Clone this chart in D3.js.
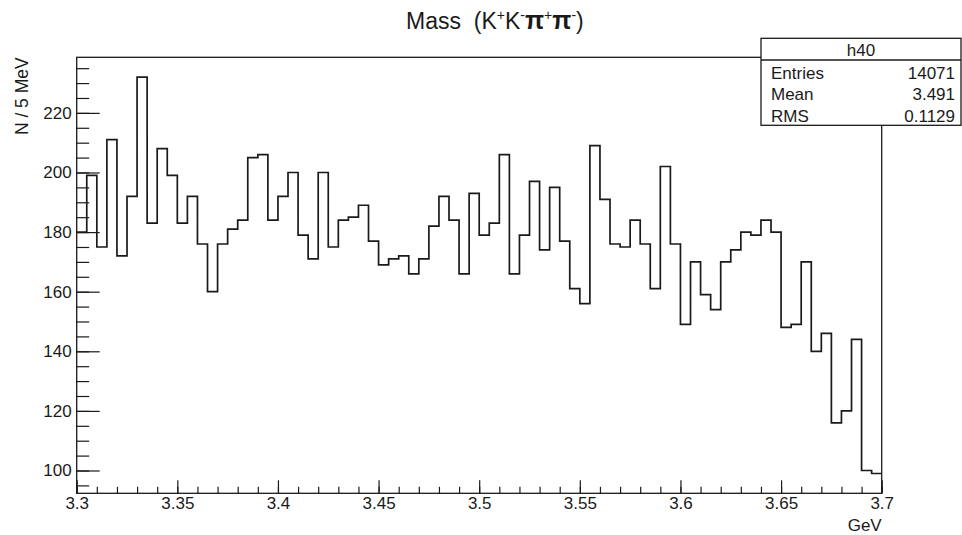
<!DOCTYPE html>
<html>
<head>
<meta charset="utf-8">
<script src="https://cdn.jsdelivr.net/npm/d3@7"></script>
<style>
  body { margin: 0; background: #fff; }
  svg { display: block; font-family: "Liberation Sans", Arial, sans-serif; }
</style>
</head>
<body>
<div id="chart"></div>
<script>
// histogram h40: 80 bins of 5 MeV from 3.3 to 3.7 GeV
const binLow = 3.3;
const binWidth = 0.005;
const counts = [
  180, 199, 175, 211, 172, 192, 232, 183, 208, 199,
  183, 192, 176, 160, 176, 181, 184, 205, 206, 184,
  192, 200, 179, 171, 200, 175, 184, 185, 189, 177,
  169, 171, 172, 166, 171, 182, 192, 184, 166, 193,
  179, 183, 206, 166, 179, 197, 174, 195, 177, 161,
  156, 209, 191, 176, 175, 184, 176, 161, 202, 176,
  149, 170, 159, 154, 170, 174, 180, 179, 184, 180,
  148, 149, 170, 140, 146, 116, 120, 144, 100, 99
];
const xTicks = [3.3, 3.35, 3.4, 3.45, 3.5, 3.55, 3.6, 3.65, 3.7];
const yTicks = [100, 120, 140, 160, 180, 200, 220];
const statLabels = ["Entries", "Mean", "RMS"];
const statValues = ["14071", "3.491", "0.1129"];

const width = 962, height = 535;
const frame = { left: 76.7, right: 881.7, top: 57.3, bottom: 493.3 };
const ink = "#1a1a1a";

const svg = d3.select("#chart").append("svg")
    .attr("width", width)
    .attr("height", height);

svg.append("rect").attr("width", width).attr("height", height).attr("fill", "#fff");

const x = d3.scaleLinear()
    .domain([binLow, binLow + counts.length * binWidth])
    .range([frame.left, frame.right]);

// ROOT style: 5% margin around min/max
const [lo, hi] = d3.extent(counts);
const pad = 0.05 * (hi - lo);
const y = d3.scaleLinear()
    .domain([lo - pad, hi + pad])
    .range([frame.bottom, frame.top]);

// minor ticks
const xMinor = d3.range(0, 41).map(i => binLow + i * 0.01);
const yMinor = d3.range(95, 240, 5);

svg.append("g")
    .attr("transform", `translate(0,${frame.bottom})`)
    .call(d3.axisBottom(x).tickValues(xMinor).tickSize(-6.5).tickFormat(""))
    .call(g => g.select(".domain").remove());

svg.append("g")
    .attr("transform", `translate(${frame.left},0)`)
    .call(d3.axisLeft(y).tickValues(yMinor).tickSize(-12.5).tickFormat(""))
    .call(g => g.select(".domain").remove());

// major ticks + labels
svg.append("g")
    .attr("transform", `translate(0,${frame.bottom})`)
    .call(d3.axisBottom(x).tickValues(xTicks).tickSize(-13).tickPadding(4).tickFormat(d3.format("~g")))
    .call(g => g.select(".domain").remove())
    .call(g => g.selectAll("text").attr("font-size", "17px").attr("fill", ink)
        .attr("font-family", "Liberation Sans, Arial, sans-serif"));

svg.append("g")
    .attr("transform", `translate(${frame.left},0)`)
    .call(d3.axisLeft(y).tickValues(yTicks).tickSize(-23).tickPadding(5))
    .call(g => g.select(".domain").remove())
    .call(g => g.selectAll("text").attr("font-size", "17px").attr("fill", ink)
        .attr("font-family", "Liberation Sans, Arial, sans-serif"));

svg.selectAll(".tick line").attr("stroke", ink).attr("stroke-width", 1.2);

// histogram outline
const pts = counts.map((c, i) => [binLow + i * binWidth, c]);
pts.push([binLow + counts.length * binWidth, counts[counts.length - 1]]);

svg.append("path")
    .datum(pts)
    .attr("fill", "none")
    .attr("stroke", ink)
    .attr("stroke-width", 1.7)
    .attr("d", d3.line().x(d => x(d[0])).y(d => y(d[1])).curve(d3.curveStepAfter));

// frame
svg.append("rect")
    .attr("x", frame.left).attr("y", frame.top)
    .attr("width", frame.right - frame.left).attr("height", frame.bottom - frame.top)
    .attr("fill", "none").attr("stroke", ink).attr("stroke-width", 1.3);

// axis titles
svg.append("text")
    .attr("x", frame.right).attr("y", 531)
    .attr("text-anchor", "end")
    .attr("font-size", "17px").attr("fill", ink)
    .text("GeV");

svg.append("text")
    .attr("transform", `translate(28,${frame.top}) rotate(-90)`)
    .attr("text-anchor", "end")
    .attr("font-size", "17.5px").attr("fill", ink)
    .text("N / 5 MeV");

// title
const title = svg.append("text")
    .attr("x", 406).attr("y", 29)
    .attr("font-size", "23px").attr("fill", ink);
const parts = [["Mass\u00a0\u00a0(K", 0], ["+", 1], ["K", 0], ["-", 1], ["π", 0], ["+", 1], ["π", 0], ["-", 1], [")", 0]];
let raised = false;
parts.forEach(([t, sup]) => {
    const ts = title.append("tspan").text(t);
    if (t === "π") ts.attr("font-size", "25px").attr("font-weight", "bold");
    if (sup && !raised) { ts.attr("dy", -9).attr("font-size", "14px"); raised = true; }
    else if (!sup && raised) { ts.attr("dy", 9); raised = false; }
    else if (sup) ts.attr("font-size", "14px");
});

// stats box
const box = { x: 761, y: 38.3, w: 200, h: 87 };
const stats = svg.append("g");
stats.append("rect")
    .attr("x", box.x).attr("y", box.y).attr("width", box.w).attr("height", box.h)
    .attr("fill", "#fff").attr("stroke", ink).attr("stroke-width", 1.3);
stats.append("line")
    .attr("x1", box.x).attr("x2", box.x + box.w)
    .attr("y1", 60).attr("y2", 60)
    .attr("stroke", ink).attr("stroke-width", 1.3);
stats.append("text")
    .attr("x", box.x + box.w / 2).attr("y", 56)
    .attr("text-anchor", "middle")
    .attr("font-size", "17px").attr("fill", ink)
    .text("h40");
stats.selectAll(".slabel")
    .data(statLabels)
    .enter().append("text")
    .attr("x", 771).attr("y", (d, i) => 78.5 + i * 21.5)
    .attr("font-size", "17px").attr("fill", ink)
    .text(d => d);
stats.selectAll(".svalue")
    .data(statValues)
    .enter().append("text")
    .attr("x", 955).attr("y", (d, i) => 78.5 + i * 21.5)
    .attr("text-anchor", "end")
    .attr("font-size", "17px").attr("fill", ink)
    .text(d => d);
</script>
</body>
</html>
